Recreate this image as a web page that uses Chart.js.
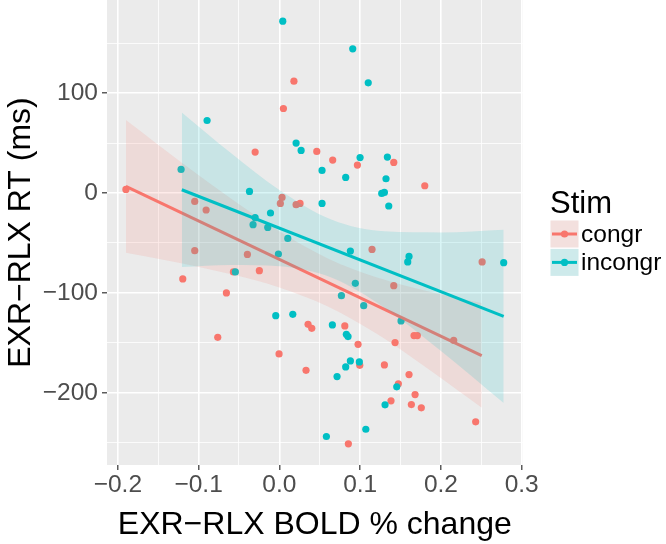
<!DOCTYPE html>
<html>
<head>
<meta charset="utf-8">
<script src="https://cdn.jsdelivr.net/npm/chart.js@4"></script>
<style>
html,body{margin:0;padding:0;background:#ffffff;}
#wrap{width:666px;height:544px;position:relative;}
</style>
</head>
<body>
<div id="wrap"><canvas id="c" width="666" height="544"></canvas></div>
<script>
// ---------- data ----------
const seriesNames = ['congr', 'incongr'];
const legendTitle = 'Stim';
const xTitle = 'EXR−RLX BOLD % change';
const yTitle = 'EXR−RLX RT (ms)';

const congrX = [0.018, 0.005, 0.0463, -0.030, 0.066, 0.0966, 0.1416, 0.18, 0.0207, 0.0256,
  -0.19, -0.1048, -0.0907, 0.0033, 0.0012, 0.1147, 0.251, 0.1416, -0.1048, -0.0396,
  -0.0569, -0.0248, -0.1196, -0.0656, 0.2158, 0.0355, 0.0401, 0.081, 0.0974, 0.1432,
  0.1667, 0.1708, 0.033, 0.0995, 0.13, 0.1605, 0.1473, 0.168, 0.1382, 0.1634,
  0.1757, 0.243, 0.0854, -0.0763, -0.0004];
const congrY = [112, 84.6, 41.6, 41, 33, 28, 30.6, 7.3, -11.7, -10.4,
  3.6, -8.4, -17, -4.4, -10.4, -56.4, -69, -92.7, -57.7, -61.4,
  -79, -77.7, -86, -100, -147.4, -131.4, -135.4, -133, -151.4, -149.7,
  -142.7, -142.7, -177.4, -172.4, -172, -181.7, -191, -201.7, -208, -211.7,
  -215, -229, -251, -144.4, -161];

const incongrX = [0.0042, -0.0895, 0.0207, 0.0269, 0.0908, 0.110, 0.0999, 0.1337, 0.0528, 0.0821,
  0.132, 0.1267, 0.13, 0.0528, 0.1354, 0.0879, 0.1605, 0.1589, 0.2777, 0.094,
  0.0768, 0.1044, -0.1217, -0.037, -0.011, -0.030, -0.0326, -0.0144, 0.0104, -0.0012,
  -0.0545, 0.1506, 0.0656, 0.0829, 0.085, 0.0879, 0.099, 0.0821, 0.0714, 0.1453,
  0.1308, 0.107, 0.0582, -0.0045, 0.0166];
const incongrY = [172, 72.6, 50, 42.6, 144.3, 110.3, 35.5, 36, 22.6, 15.6,
  14.3, -0.4, 0.6, -10.4, -13, -58, -63.4, -69, -69.7, -90.4,
  -102.7, -112.7, 23.6, 1.6, -20, -24.7, -31.7, -34.4, -45.4, -61,
  -79, -128, -132, -141.4, -143.7, -168, -169, -174, -183.7, -194,
  -212, -236.4, -243.7, -122.7, -121.4];

// fitted lines (end points)
const congrFitX = [-0.19, 0.2505];
const congrFitY = [6.6, -162.7];
const incongrFitX = [-0.1208, 0.2777];
const incongrFitY = [3.3, -123.4];

// confidence bands (edges)
const congrBandX = [-0.19, -0.12, -0.057, 0.0, 0.06, 0.12, 0.19, 0.2505];
const congrBandHigh = [73.0, 29.9, -7.1, -38.3, -65.5, -84.4, -99.5, -110.1];
const congrBandLow = [-59.8, -70.5, -81.9, -94.5, -113.5, -140.6, -179.3, -214.9];
const incongrBandX = [-0.1208, -0.06, 0.0, 0.065, 0.13, 0.2, 0.2777];
const incongrBandHigh = [80.7, 40.0, 3.1, -26.8, -38.3, -39.4, -36.7];
const incongrBandLow = [-74.1, -72.0, -73.3, -84.8, -114.7, -158.0, -210.1];

// axes
const xTickValues = [-0.2, -0.1, 0.0, 0.1, 0.2, 0.3];
const xTickLabels = ['−0.2', '−0.1', '0.0', '0.1', '0.2', '0.3'];
const xMinorValues = [-0.15, -0.05, 0.05, 0.15, 0.25];
const yTickValues = [-200, -100, 0, 100];
const yTickLabels = ['−200', '−100', '0', '100'];
const yMinorValues = [-250, -150, -50, 50, 150];
const xRange = [-0.2134, 0.3011];
const yRange = [-272.2, 193.2];

// ---------- styling ----------
const FAM = "'Liberation Sans', Arial, Helvetica, sans-serif";
const RED = '#F8766D';
const TEAL = '#00BFC4';
const RED_BAND = 'rgba(248,118,109,0.15)';
const TEAL_BAND = 'rgba(0,191,196,0.15)';
const PT_R = 3.6;

const toPts = (xs, ys) => xs.map((x, i) => ({x: x, y: ys[i]}));
const isIn = (arr, v) => arr.some(t => Math.abs(t - v) < 1e-9);

function makeTicks(major, minor) {
  return major.concat(minor).sort((a, b) => a - b).map(v => ({value: v}));
}

const panelBg = {
  id: 'panelBg',
  beforeDraw(chart) {
    const {ctx, chartArea: a} = chart;
    ctx.save();
    ctx.fillStyle = '#EBEBEB';
    ctx.fillRect(a.left, a.top, a.right - a.left, a.bottom - a.top);
    ctx.restore();
  }
};

const ggLegend = {
  id: 'ggLegend',
  afterDraw(chart) {
    const ctx = chart.ctx;
    ctx.save();
    ctx.fillStyle = '#000000';
    ctx.font = '31px ' + FAM;
    ctx.textAlign = 'left';
    ctx.textBaseline = 'alphabetic';
    ctx.fillText(legendTitle, 550, 213);
    const cols = [RED, TEAL];
    const fills = [RED_BAND, TEAL_BAND];
    seriesNames.forEach((name, i) => {
      const x = 550.5, y = 220.5 + i * 28.4, w = 28, h = 27;
      ctx.fillStyle = '#F2F2F2';
      ctx.fillRect(x, y, w, h);
      ctx.fillStyle = fills[i];
      ctx.fillRect(x, y, w, h);
      ctx.strokeStyle = cols[i];
      ctx.lineWidth = 3;
      ctx.beginPath();
      ctx.moveTo(x + 1.5, y + h / 2);
      ctx.lineTo(x + w - 1.5, y + h / 2);
      ctx.stroke();
      ctx.fillStyle = cols[i];
      ctx.beginPath();
      ctx.arc(x + w / 2, y + h / 2, PT_R, 0, Math.PI * 2);
      ctx.fill();
      ctx.fillStyle = '#000000';
      ctx.font = '24.5px ' + FAM;
      ctx.textBaseline = 'middle';
      ctx.fillText(name, 581, y + h / 2 + 1);
    });
    ctx.restore();
  }
};

const pointDs = (label, xs, ys, col, order) => ({
  label: label, data: toPts(xs, ys), showLine: false,
  pointRadius: PT_R, pointHoverRadius: PT_R, pointBackgroundColor: col,
  pointBorderWidth: 0, pointBorderColor: 'rgba(0,0,0,0)', order: order
});
const edgeDs = (label, xs, ys, fill, order) => ({
  label: label, data: toPts(xs, ys), showLine: true,
  borderColor: 'rgba(0,0,0,0)', borderWidth: 1, pointRadius: 0, pointHoverRadius: 0,
  cubicInterpolationMode: 'monotone', fill: fill ? '-1' : false,
  backgroundColor: fill || 'rgba(0,0,0,0)', order: order
});
const fitDs = (label, xs, ys, col, order) => ({
  label: label, data: toPts(xs, ys), showLine: true,
  borderColor: col, borderWidth: 3, pointRadius: 0, pointHoverRadius: 0,
  fill: false, order: order
});

new Chart(document.getElementById('c'), {
  type: 'scatter',
  data: {
    datasets: [
      pointDs(seriesNames[0], congrX, congrY, RED, 10),
      pointDs(seriesNames[1], incongrX, incongrY, TEAL, 9),
      edgeDs('congr low', congrBandX, congrBandLow, null, 8),
      edgeDs('congr high', congrBandX, congrBandHigh, RED_BAND, 7),
      fitDs('congr fit', congrFitX, congrFitY, RED, 6),
      edgeDs('incongr low', incongrBandX, incongrBandLow, null, 5),
      edgeDs('incongr high', incongrBandX, incongrBandHigh, TEAL_BAND, 4),
      fitDs('incongr fit', incongrFitX, incongrFitY, TEAL, 3)
    ]
  },
  options: {
    responsive: false,
    animation: false,
    devicePixelRatio: 1,
    events: [],
    layout: {autoPadding: false, padding: {left: 0, right: 143.4, top: 0, bottom: 0}},
    plugins: {
      legend: {display: false},
      tooltip: {enabled: false},
      filler: {propagate: false}
    },
    scales: {
      x: {
        type: 'linear', min: xRange[0], max: xRange[1],
        afterBuildTicks: s => { s.ticks = makeTicks(xTickValues, xMinorValues); },
        afterFit: s => { s.height = 79; s.paddingLeft = 0; s.paddingRight = 0; },
        ticks: {
          autoSkip: false, maxRotation: 0, minRotation: 0, padding: 1,
          color: '#4D4D4D', font: {family: FAM, size: 24.5},
          callback: v => { const i = xTickValues.findIndex(t => Math.abs(t - v) < 1e-9); return i >= 0 ? xTickLabels[i] : ''; }
        },
        grid: {
          color: '#FFFFFF',
          lineWidth: c => (c.tick && isIn(xTickValues, c.tick.value)) ? 1.6 : 0.8,
          tickColor: c => (c.tick && isIn(xTickValues, c.tick.value)) ? '#333333' : 'rgba(0,0,0,0)',
          tickLength: 5, tickWidth: 1.2, drawTicks: true
        },
        border: {display: false},
        title: {display: true, text: xTitle, color: '#000000', font: {family: FAM, size: 32, lineHeight: 1.2}, padding: {top: 0, bottom: 0}}
      },
      y: {
        type: 'linear', min: yRange[0], max: yRange[1],
        afterBuildTicks: s => { s.ticks = makeTicks(yTickValues, yMinorValues); },
        afterFit: s => { s.width = 107; s.paddingTop = 0; s.paddingBottom = 0; },
        ticks: {
          autoSkip: false, padding: 4,
          color: '#4D4D4D', font: {family: FAM, size: 24.5},
          callback: v => { const i = yTickValues.findIndex(t => Math.abs(t - v) < 1e-9); return i >= 0 ? yTickLabels[i] : ''; }
        },
        grid: {
          color: '#FFFFFF',
          lineWidth: c => (c.tick && isIn(yTickValues, c.tick.value)) ? 1.6 : 0.8,
          tickColor: c => (c.tick && isIn(yTickValues, c.tick.value)) ? '#333333' : 'rgba(0,0,0,0)',
          tickLength: 5, tickWidth: 1.2, drawTicks: true
        },
        border: {display: false},
        title: {display: true, text: yTitle, color: '#000000', font: {family: FAM, size: 32, lineHeight: 1.2}, padding: {top: 2, bottom: 0}}
      }
    }
  },
  plugins: [panelBg, ggLegend]
});
</script>
</body>
</html>
